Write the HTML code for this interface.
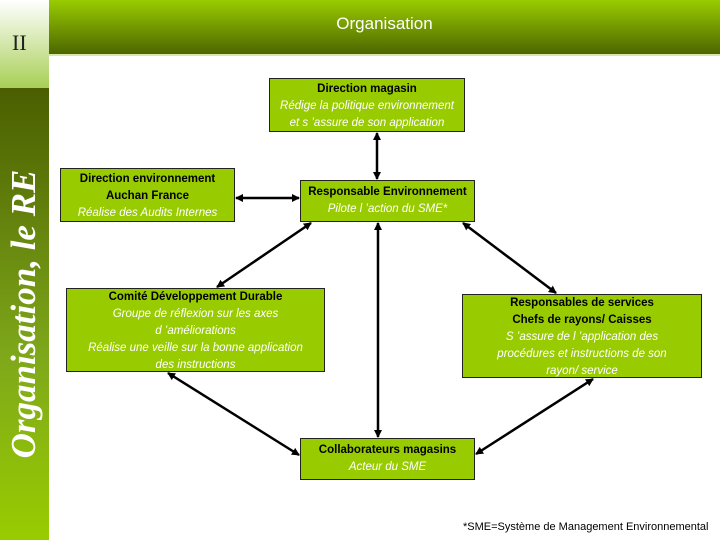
<!DOCTYPE html>
<html><head><meta charset="utf-8"><style>
body{margin:0;width:720px;height:540px;position:relative;background:#fff;overflow:hidden;font-family:"Liberation Sans",sans-serif}
.side{position:absolute;left:0;top:0;width:49px;height:88px;background:linear-gradient(#fff,#a8cf55)}
.side2{position:absolute;left:0;top:88px;width:49px;height:452px;background:linear-gradient(#4a5e00,#7fa81a 60%,#9c0)}
.hdr{position:absolute;left:49px;top:0;width:671px;height:54px;background:linear-gradient(#9c0,#4d6600);border-bottom:2px solid #d9e8a8}
.box{position:absolute;background:#99cc00;border:1px solid #222;text-align:center;font-size:11.5px;line-height:17px;color:#000;box-sizing:border-box;padding-top:2px}
.box b{font-weight:bold}
.box i{color:#fff}
</style></head><body>
<div class="side"></div><div class="side2"></div>
<div style="position:absolute;left:12px;top:30px;font:22px 'Liberation Serif',serif;color:#222">II</div>
<div class="hdr"></div>
<div style="position:absolute;left:49px;width:671px;top:14px;text-align:center;color:#fff;font-size:17px">Organisation</div>
<div style="position:absolute;left:24px;top:314px;width:330px;height:44px;margin-left:-165px;margin-top:-22px;transform:rotate(-90deg);text-align:center;color:#fff;font:italic bold 35px 'Liberation Serif',serif;line-height:44px;white-space:nowrap">Organisation, le RE</div>

<svg style="position:absolute;left:0;top:0" width="720" height="540">
<defs><marker id="a" markerWidth="8" markerHeight="8" refX="7" refY="4" orient="auto-start-reverse" markerUnits="userSpaceOnUse"><path d="M0,0 L8,4 L0,8z" fill="#000"/></marker></defs>
<g stroke="#000" stroke-width="2.5" marker-start="url(#a)" marker-end="url(#a)">
<line x1="377" y1="133" x2="377" y2="179"/>
<line x1="236" y1="198" x2="299" y2="198"/>
<line x1="311" y1="223" x2="217" y2="287"/>
<line x1="168" y1="373" x2="299" y2="455"/>
<line x1="378" y1="223" x2="378" y2="437"/>
<line x1="463" y1="223" x2="556" y2="293"/>
<line x1="593" y1="379" x2="476" y2="454"/>
</g></svg>

<div class="box" style="left:269px;top:78px;width:196px;height:54px"><b>Direction magasin</b><br><i>Rédige la politique environnement<br>et s ’assure de son application</i></div>
<div class="box" style="left:60px;top:168px;width:175px;height:54px"><b>Direction environnement<br>Auchan France</b><br><i>Réalise des Audits Internes</i></div>
<div class="box" style="left:300px;top:180px;width:175px;height:42px;padding-top:3px"><b>Responsable Environnement</b><br><i>Pilote l ’action du SME*</i></div>
<div class="box" style="left:66px;top:288px;width:259px;height:84px;padding-top:0"><b>Comité Développement Durable</b><br><i>Groupe de réflexion sur les axes<br>d ’améliorations<br>Réalise une veille sur la bonne application<br>des instructions</i></div>
<div class="box" style="left:462px;top:294px;width:240px;height:84px;padding-top:0"><b>Responsables de services<br>Chefs de rayons/ Caisses</b><br><i>S ’assure de l ’application des<br>procédures et instructions de son<br>rayon/ service</i></div>
<div class="box" style="left:300px;top:438px;width:175px;height:42px;padding-top:3px"><b>Collaborateurs magasins</b><br><i>Acteur du SME</i></div>
<div style="position:absolute;left:463px;top:521px;font-size:11px;color:#000;white-space:nowrap">*SME=Système de Management Environnemental</div>
</body></html>
